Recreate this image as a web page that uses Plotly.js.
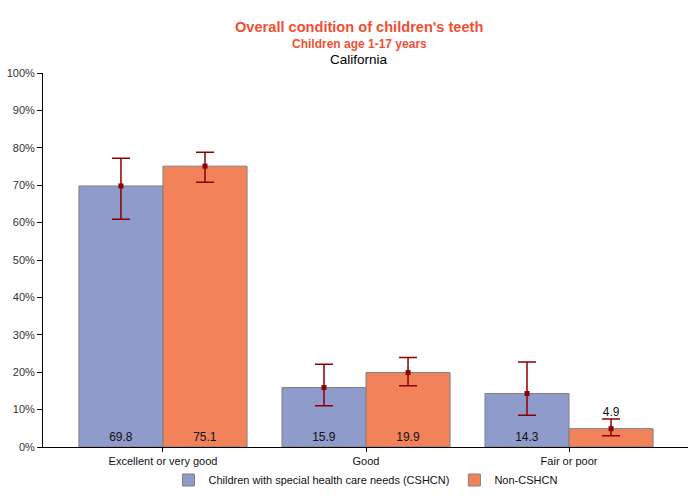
<!DOCTYPE html>
<html>
<head>
<meta charset="utf-8">
<script src="https://cdn.plot.ly/plotly-3.0.1.min.js"></script>
<style>
  html, body { margin: 0; padding: 0; background: #fff; }
  #plot { width: 700px; height: 500px; }
</style>
</head>
<body>
<div id="plot"></div>
<script>
// Data
const categories = ['Excellent or very good', 'Good', 'Fair or poor'];

const cshcnValues = [69.8, 15.9, 14.3];
const cshcnLow = [60.9, 11.0, 8.5];
const cshcnHigh = [77.2, 22.1, 22.7];

const nonValues = [75.1, 19.9, 4.9];
const nonLow = [70.8, 16.4, 3.0];
const nonHigh = [78.8, 23.9, 7.5];

const seriesNames = ['Children with special health care needs (CSHCN)', 'Non-CSHCN'];
const yTicks = [0, 10, 20, 30, 40, 50, 60, 70, 80, 90, 100];

// Styling
const blue = '#8f9bcb';
const orange = '#f2825a';
const errColor = '#8b0000';
const titleColor = '#ef5033';
const fontFamily = 'Liberation Sans, Arial, sans-serif';
const bargap = 0.172;
const half = (1 - bargap) / 4;   // center offset of each bar in a group
const smallCut = 8;              // bars shorter than this get the label above

const xIdx = categories.map((c, i) => i);

function barTrace(name, values, color) {
    return {
        type: 'bar',
        name: name,
        x: xIdx,
        y: values,
        marker: { color: color, line: { color: '#808080', width: 1 } },
        text: values.map(v => v >= smallCut ? v.toFixed(1) : ''),
        textposition: 'inside',
        insidetextanchor: 'start',
        textangle: 0,
        textfont: { color: '#111', size: 12, family: fontFamily },
        hoverinfo: 'skip'
    };
}

function errTrace(values, low, high, shift) {
    return {
        type: 'scatter',
        mode: 'markers',
        x: xIdx.map(i => i + shift),
        y: values,
        marker: { color: errColor, size: 5, symbol: 'square' },
        error_y: {
            type: 'data',
            symmetric: false,
            array: high.map((h, i) => h - values[i]),
            arrayminus: values.map((v, i) => v - low[i]),
            color: errColor,
            thickness: 1.5,
            width: 9
        },
        showlegend: false,
        hoverinfo: 'skip'
    };
}

function topLabels(values, high, shift) {
    const xs = [], ys = [], ts = [];
    values.forEach((v, i) => {
        if (v < smallCut) {
            xs.push(i + shift);
            ys.push(high[i]);
            ts.push(v.toFixed(1));
        }
    });
    return {
        type: 'scatter',
        mode: 'text',
        x: xs,
        y: ys,
        text: ts,
        textposition: 'top center',
        textfont: { color: '#111', size: 12, family: fontFamily },
        showlegend: false,
        hoverinfo: 'skip'
    };
}

const data = [
    barTrace(seriesNames[0], cshcnValues, blue),
    barTrace(seriesNames[1], nonValues, orange),
    errTrace(cshcnValues, cshcnLow, cshcnHigh, -half),
    errTrace(nonValues, nonLow, nonHigh, half),
    topLabels(cshcnValues, cshcnHigh, -half),
    topLabels(nonValues, nonHigh, half)
];

const layout = {
    width: 700,
    height: 500,
    margin: { l: 43, r: 12, t: 73, b: 53 },
    paper_bgcolor: 'white',
    plot_bgcolor: 'white',
    font: { family: fontFamily, size: 11, color: '#222' },
    barmode: 'group',
    bargap: bargap,
    bargroupgap: 0,
    xaxis: {
        range: [-0.591, 2.586],
        tickvals: xIdx,
        ticktext: categories,
        ticks: 'outside',
        ticklen: 4,
        tickcolor: '#000',
        showline: true,
        linecolor: '#000',
        linewidth: 1,
        showgrid: false,
        zeroline: false,
        automargin: false,
        tickfont: { size: 11, color: '#111' }
    },
    yaxis: {
        range: [0, 100],
        tickvals: yTicks,
        ticktext: yTicks.map(v => v + '%'),
        ticks: 'outside',
        ticklen: 5,
        tickcolor: '#000',
        showline: true,
        linecolor: '#000',
        linewidth: 1,
        showgrid: false,
        zeroline: false,
        automargin: false,
        tickfont: { size: 11, color: '#333' }
    },
    showlegend: true,
    legend: {
        orientation: 'h',
        x: 0.5,
        xanchor: 'center',
        xref: 'paper',
        y: 0.04,
        yanchor: 'middle',
        yref: 'container',
        bgcolor: 'rgba(0,0,0,0)',
        font: { size: 11, color: '#111' },
        traceorder: 'normal'
    },
    annotations: [
        {
            text: '<b>Overall condition of children\'s teeth</b>',
            xref: 'paper', yref: 'paper', x: 0.49, y: 1.123,
            xanchor: 'center', yanchor: 'middle', showarrow: false,
            font: { size: 14.6, color: titleColor }
        },
        {
            text: '<b>Children age 1-17 years</b>',
            xref: 'paper', yref: 'paper', x: 0.49, y: 1.078,
            xanchor: 'center', yanchor: 'middle', showarrow: false,
            font: { size: 12, color: titleColor }
        },
        {
            text: 'California',
            xref: 'paper', yref: 'paper', x: 0.49, y: 1.037,
            xanchor: 'center', yanchor: 'middle', showarrow: false,
            font: { size: 13.5, color: '#000' }
        }
    ]
};

Plotly.newPlot('plot', data, layout, { displayModeBar: false, staticPlot: true });
</script>
</body>
</html>
